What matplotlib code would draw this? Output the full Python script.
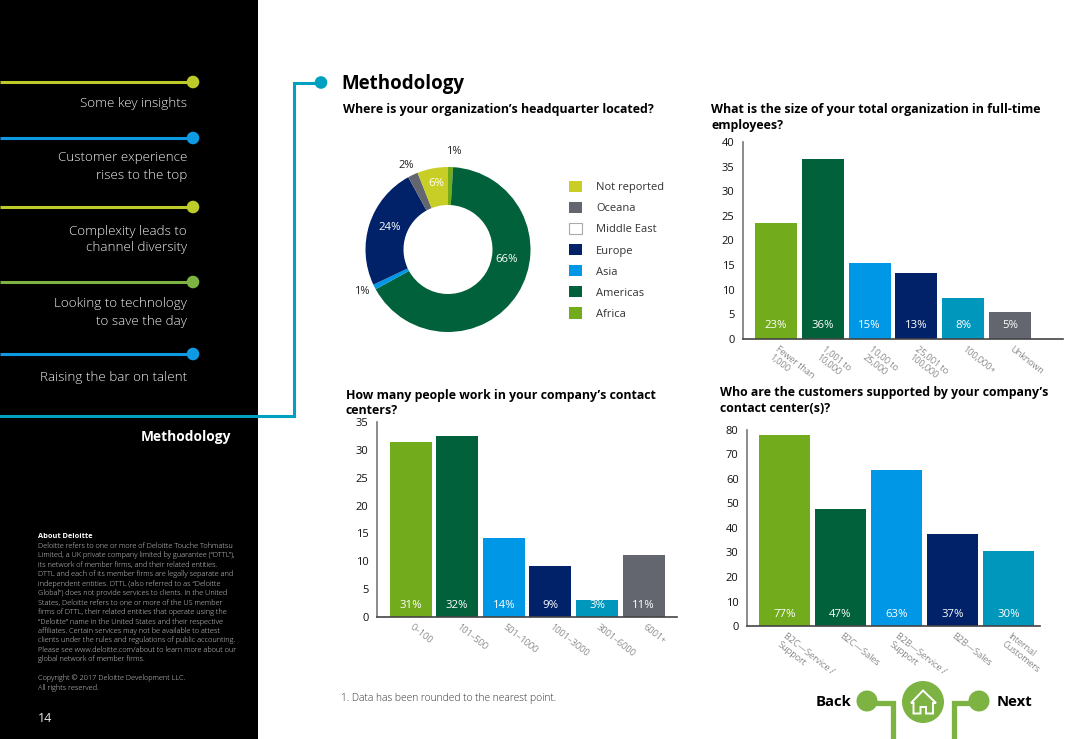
import matplotlib
matplotlib.use("Agg")
import matplotlib.pyplot as plt
from matplotlib.patches import Rectangle, Circle, Patch, Polygon
from matplotlib.transforms import ScaledTranslation

plt.rcParams['font.family'] = ['Open Sans', 'DejaVu Sans']

W, H = 1080, 739
GREEN = '#72AB1C'; DGREEN = '#00613A'; BLUE = '#0097E6'; NAVY = '#012169'
TEAL = '#0097BD'; GRAY = '#63666E'; YELLOW = '#C9CE27'; WHITE = '#FFFFFF'
NAVLIME = '#BCCB2A'; NAVBLUE = '#0E9AE2'; CONNECT = '#00A0C0'; NAVGREEN = '#7CB342'
TICKTXT = '#444444'

# data
donut_names = ['Africa', 'Americas', 'Asia', 'Europe', 'Middle East', 'Oceana', 'Not reported']
donut_values = [1, 66, 1, 24, 0, 2, 6]
size_labels = ['Fewer than\n1,000', '1,001 to\n10,000', '10,00 to\n25,000', '25,001 to\n100,000', '100,000+', 'Unknown']
size_values = [23.6, 36.6, 15.4, 13.5, 8.4, 5.4]
size_pct = ['23%', '36%', '15%', '13%', '8%', '5%']
people_labels = ['0–100', '101–500', '501–1000', '1001–3000', '3001–6000', '6001+']
people_values = [31.4, 32.5, 14.2, 9.2, 3.1, 11.1]
people_pct = ['31%', '32%', '14%', '9%', '3%', '11%']
cust_labels = ['B2C—Service /\nSupport', 'B2C—Sales', 'B2B—Service /\nSupport', 'B2B—Sales', 'Internal\nCustomers']
cust_values = [77.8, 47.7, 63.6, 37.5, 30.6]
cust_pct = ['77%', '47%', '63%', '37%', '30%']
about_lines = [
    'Deloitte refers to one or more of Deloitte Touche Tohmatsu',
    'Limited, a UK private company limited by guarantee (“DTTL”),',
    'its network of member firms, and their related entities.',
    'DTTL and each of its member firms are legally separate and',
    'independent entities. DTTL (also referred to as “Deloitte',
    'Global”) does not provide services to clients. In the United',
    'States, Deloitte refers to one or more of the US member',
    'firms of DTTL, their related entities that operate using the',
    '“Deloitte” name in the United States and their respective',
    'affiliates. Certain services may not be available to attest',
    'clients under the rules and regulations of public accounting.',
    'Please see www.deloitte.com/about to learn more about our',
    'global network of member firms.',
]

fig = plt.figure(figsize=(W / 100, H / 100), dpi=100, facecolor='white')


def px_axes(left, top, right, bottom):
    return fig.add_axes([left / W, 1 - bottom / H, (right - left) / W, (bottom - top) / H])


bg = fig.add_axes([0, 0, 1, 1], zorder=0)
bg.set_xlim(0, W); bg.set_ylim(H, 0); bg.axis('off')
bg.add_patch(Rectangle((0, 0), 258, H, color='black', lw=0))

# sidebar navigation
for y, c in [(82, NAVLIME), (138, NAVBLUE), (207, NAVLIME), (282, NAVGREEN), (354, NAVBLUE)]:
    bg.plot([0, 193], [y, y], color=c, lw=2.2, solid_capstyle='butt')
    bg.add_patch(Circle((193, y), 6.3, color=c, lw=0))
bg.plot([0, 293.5, 293.5, 321], [416, 416, 82.5, 82.5], color=CONNECT, lw=2.2, solid_joinstyle='miter')
bg.add_patch(Circle((321, 82.5), 6.3, color=CONNECT, lw=0))

nav = [('Some key insights', 104), ('Customer experience', 158), ('rises to the top', 175),
       ('Complexity leads to', 231), ('channel diversity', 248), ('Looking to technology', 304),
       ('to save the day', 321), ('Raising the bar on talent', 377)]
for s, y in nav:
    bg.text(187, y, s, color='#F0F0F0', fontsize=9.6, fontweight=300, ha='right', va='center')
bg.text(231, 436.5, 'Methodology', color='white', fontsize=9.9, fontweight='bold', ha='right', va='center')

bg.text(38, 536.5, 'About Deloitte', color='white', fontsize=5.3, fontweight='bold', va='center')
for i, s in enumerate(about_lines):
    bg.text(38, 546 + i * 9.45, s, color='#D4D4D4', fontsize=5.33, fontweight=300, va='center')
bg.text(38, 678.5, 'Copyright © 2017 Deloitte Development LLC.', color='#D4D4D4', fontsize=5.33, fontweight=300, va='center')
bg.text(38, 688, 'All rights reserved.', color='#D4D4D4', fontsize=5.33, fontweight=300, va='center')
bg.text(38, 718, '14', color='#E8E8E8', fontsize=9, va='center')

# headings
bg.text(341, 84.5, 'Methodology', fontsize=13.5, fontweight='bold', color='black', va='center')
QS = 8.9
bg.text(343, 110, 'Where is your organization’s headquarter located?', fontsize=QS, fontweight='bold', va='center')
bg.text(711, 110, 'What is the size of your total organization in full-time', fontsize=QS, fontweight='bold', va='center')
bg.text(711, 125.5, 'employees?', fontsize=QS, fontweight='bold', va='center')
bg.text(346, 395, 'How many people work in your company’s contact', fontsize=QS, fontweight='bold', va='center')
bg.text(346, 410.5, 'centers?', fontsize=QS, fontweight='bold', va='center')
bg.text(720, 392.5, 'Who are the customers supported by your company’s', fontsize=QS, fontweight='bold', va='center')
bg.text(720, 408, 'contact center(s)?', fontsize=QS, fontweight='bold', va='center')
bg.text(341, 698, '1. Data has been rounded to the nearest point.', fontsize=7.4, fontweight=300, color='#333333', va='center')

# bottom navigation
bg.add_patch(Circle((867, 701), 10.5, color=NAVGREEN, lw=0))
bg.add_patch(Circle((979, 701), 10.5, color=NAVGREEN, lw=0))
bg.add_patch(Circle((923, 702), 21, color=NAVGREEN, lw=0))
bg.plot([870, 892.5, 892.5], [702.5, 702.5, 739], color=NAVGREEN, lw=3.8, solid_joinstyle='miter')
bg.plot([976, 953.5, 953.5], [702.5, 702.5, 739], color=NAVGREEN, lw=3.8, solid_joinstyle='miter')
bg.add_patch(Polygon([(911, 703), (923, 690.5), (936, 703), (933, 703), (933, 713.5), (926, 713.5),
                      (926, 707), (920.5, 707), (920.5, 713.5), (913.5, 713.5), (913.5, 703)],
                     closed=True, fill=False, edgecolor='white', lw=1.4, joinstyle='miter'))
bg.text(851, 701.5, 'Back', fontsize=10.7, fontweight='bold', ha='right', va='center')
bg.text(997, 701.5, 'Next', fontsize=10.7, fontweight='bold', ha='left', va='center')

# donut
cx, cy, R = 448, 249.5, 82.5
dax = px_axes(cx - R, cy - R, cx + R, cy + R)
dax.set_zorder(2); dax.patch.set_alpha(0)
donut_colors = [GREEN, DGREEN, BLUE, NAVY, WHITE, GRAY, YELLOW]
dax.pie(donut_values, colors=donut_colors, startangle=90, counterclock=False, radius=1,
        wedgeprops=dict(width=1 - 44.5 / R, linewidth=0))
dax.set_xlim(-1, 1); dax.set_ylim(-1, 1)
for s, x, y, c in [('6%', 436, 183, 'white'), ('24%', 390, 227, 'white'), ('66%', 507, 260, 'white'),
                   ('1%', 454, 152, 'black'), ('2%', 406, 166, 'black'), ('1%', 362, 291, 'black')]:
    if c == 'black':
        bg.text(x, y, s, color='#222222', fontsize=8, ha='center', va='center', zorder=10)
    else:
        dax.text((x - cx) / R, (cy - y) / R, s, color=c, fontsize=8.2, ha='center', va='center')

handles = []
for n, c in zip(donut_names[::-1], donut_colors[::-1]):
    if c == WHITE:
        handles.append(Patch(facecolor='white', edgecolor='#AAAAAA', linewidth=0.8, label=n))
    else:
        handles.append(Patch(facecolor=c, edgecolor='none', label=n))
leg = fig.legend(handles=handles, loc='upper left', bbox_to_anchor=(569 / W, 1 - 181 / H), frameon=False,
                 fontsize=8, labelcolor='#333333', borderpad=0, borderaxespad=0,
                 handlelength=13 / 11.1, handleheight=13 / 11.1, handletextpad=14 / 11.1,
                 labelspacing=8.7 / 11.1)


def bars(box, ylim, step, names, values, pct, colors, first, spacing, width, lab_px):
    left, top, right, bottom = box
    ax = px_axes(left, top, right, bottom)
    ax.set_zorder(2); ax.patch.set_alpha(0)
    x0 = (left - first) / spacing
    x1 = (right - first) / spacing
    xs = list(range(len(values)))
    ax.bar(xs, values, width=width / spacing, color=colors, linewidth=0)
    ax.set_xlim(x0, x1); ax.set_ylim(0, ylim)
    ax.set_yticks(range(0, ylim + 1, step))
    ax.tick_params(axis='y', length=0, labelsize=8, pad=6, labelcolor='#111111')
    ax.set_xticks(xs)
    ax.set_xticklabels(names, rotation=-38, rotation_mode='anchor', ha='left', va='top',
                       fontsize=6.7, fontweight=300, color=TICKTXT, linespacing=1.15)
    ax.tick_params(axis='x', length=0, pad=4)
    shift = ScaledTranslation(3 / 100, 0, fig.dpi_scale_trans)
    for t in ax.get_xticklabels():
        t.set_transform(t.get_transform() + shift)
    for sp in ('top', 'right'):
        ax.spines[sp].set_visible(False)
    ax.spines['left'].set_color('#777777'); ax.spines['left'].set_linewidth(1.2)
    ax.spines['bottom'].set_color('#444444'); ax.spines['bottom'].set_linewidth(1.2)
    for x, s in zip(xs, pct):
        ax.annotate(s, (x, 0), xytext=(0, lab_px * 0.72), textcoords='offset points', color='white',
                    fontsize=8.2, ha='center', va='center')
    return ax


bars((743, 142, 1063, 339), 40, 5, size_labels, size_values, size_pct,
     [GREEN, DGREEN, BLUE, NAVY, TEAL, GRAY], 776, 46.8, 42, 13)
bars((377, 422, 677, 617), 35, 5, people_labels, people_values, people_pct,
     [GREEN, DGREEN, BLUE, NAVY, TEAL, GRAY], 410.6, 46.6, 42, 11.5)
bars((747, 430, 1040, 626), 80, 10, cust_labels, cust_values, cust_pct,
     [GREEN, DGREEN, BLUE, NAVY, TEAL], 784.5, 56, 51, 11.5)

fig.savefig('out.png', dpi=100)
